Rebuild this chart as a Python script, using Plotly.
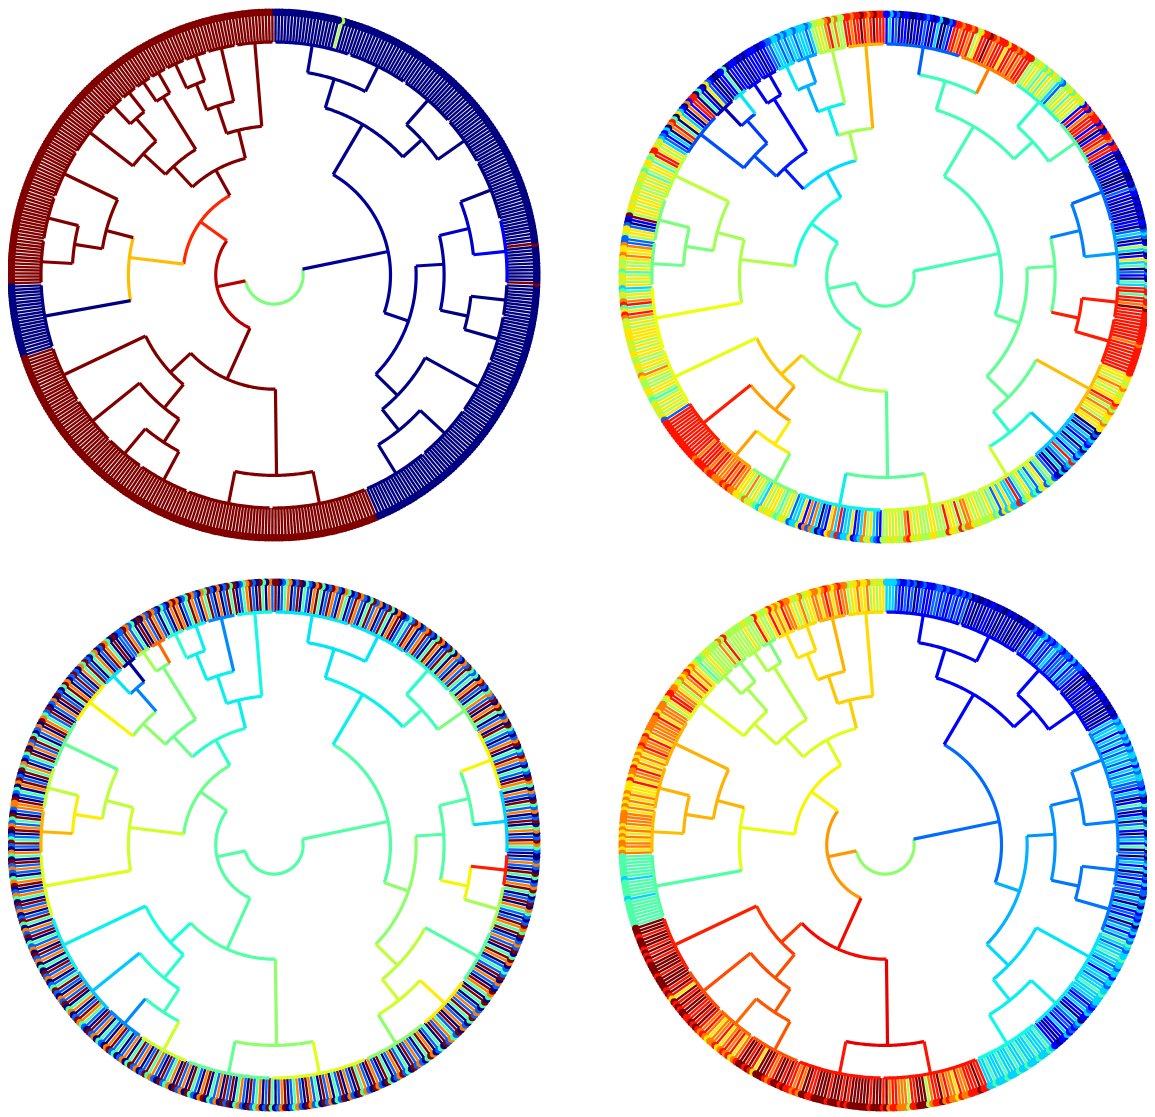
import plotly.graph_objects as go

# the page body adds an 8px margin, so the figure is 8px smaller than the window
PAGE_OFFSET = 8
FIG_W, FIG_H = 1155 - PAGE_OFFSET, 1117 - PAGE_OFFSET

# ---------------- tree topology (children listed counter-clockwise from 12 o'clock)
INTERNAL = ["root", "L", "L1", "L1a", "L1a1", "L1a1b", "L1a1b1", "L1a2", "L1a2a", "L1a2b", "L1a2b2",
            "L1b", "L1b1", "L1b1b", "L2", "L2a", "L2a2", "L2a2b", "L2b",
            "R", "R2", "R2b", "R2b2", "R2a", "R2a2", "R2a1", "R1", "R1b", "R1a"]
CHILDREN = [["L", "R"], ["L1", "L2"], ["L1a", "L1b"], ["L1a1", "L1a2"], ["c1", "L1a1b"], ["c2", "L1a1b1"],
            ["c3", "c4"], ["L1a2a", "L1a2b"], ["c5", "c6"], ["L1a2b2", "c9"], ["c7", "c8"],
            ["L1b1", "c13"], ["c10", "L1b1b"], ["c11", "c12"], ["L2a", "L2b"], ["c14", "L2a2"],
            ["c15", "L2a2b"], ["c16", "c17"], ["c18", "c19"],
            ["R2", "R1"], ["R2b", "R2a"], ["R2b2", "c22"], ["c20", "c21"], ["R2a2", "R2a1"],
            ["c23", "c24"], ["c25", "c26"], ["R1b", "R1a"], ["c27", "c28"], ["c29", "c30"]]
# merge heights, as radius (1.0 = inner edge of the leaf ring)
HEIGHT = [0.125, 0.25, 0.39, 0.515, 0.64, 0.765, 0.885, 0.635, 0.90, 0.765, 0.895,
          0.625, 0.745, 0.866, 0.49, 0.61, 0.74, 0.86, 0.86,
          0.50, 0.61, 0.74, 0.855, 0.73, 0.85, 0.86, 0.75, 0.86, 0.88]

CLUSTERS = ["c%d" % i for i in range(1, 31)]
CLUSTER_SIZE = [13, 10, 8, 7, 6, 6, 6, 8, 16, 17, 15, 15, 22, 20, 17, 14, 18, 29, 33,
                23, 20, 19, 16, 11, 22, 21, 17, 20, 21, 26]

# ---------------- leaf values per panel (one digit per leaf, value = digit / 9)
LEAVES_P1 = ["99999 99999 999", "99999 99999", "99999 999", "99999 99", "99999 9", "99999 9",
             "99999 9", "99999 999", "99999 99999 99999 9", "99999 99999 99999 99",
             "99999 99999 99999", "99999 99999 99999", "00000 00000 00000 00000 00",
             "99999 99999 99999 99999", "99999 99999 99999 99", "99999 99999 9999",
             "99999 99999 99999 999", "99999 99999 99999 99999 99999 9999",
             "99999 99999 99999 99999 99999 99999 999",
             "00000 00000 00000 00000 000", "00000 00000 00000 00000", "00000 00000 00000 0000",
             "00000 00000 00000 0", "00000 00000 0", "90000 00000 00900 00000 00",
             "00000 00000 00000 00000 0", "00000 00000 00000 00", "00000 00000 00000 00000",
             "00000 00000 00000 00000 0", "00000 50000 00000 00000 00000 0"]
LEAVES_P2 = ["88898 78988 788", "55758 75655", "32333 233", "23233 22", "11011 1", "10101 1",
             "10411 0", "01260 140", "88170 13604 87031 2", "36568 85466 54656 55",
             "65665 66591 02665", "22766 76556 45656", "34657 84687 56566 66565 66",
             "55665 76555 66545 65656", "28888 88888 88888 78", "88878 87778 7877",
             "66575 65436 56654 565", "23361 72730 21673 82336 12375 6321",
             "55656 55786 56555 66555 86658 57765 655",
             "56452 63633 82456 34256 245", "21030 23831 32031 23020", "66756 67578 66567 6566",
             "88888 88887 88888 8", "88889 78848 8", "34012 04361 03510 23201 10",
             "10101 01120 10001 10100 1", "88178 81081 88871 81", "56564 65523 55646 45655",
             "88878 78868 88789 88658 7", "88788 12003 10121 01001 10213 1"]
LEAVES_P3 = ["27049 02974 209", "49207 02947", "02794 207", "97024 02", "79270 9", "04279 2",
             "20904 7", "92074 029", "47029 20794 02907 2", "09247 90720 49270 94",
             "20749 02970 42097", "72094 27902 49207", "40927 20479 02740 92702 94",
             "07290 42709 27040 92702", "49207 29047 02974 20", "92704 20792 4027",
             "04927 02947 20924 709", "27094 20790 42709 29047 20924 7029",
             "40279 02472 09724 09270 42907 20947 209",
             "72094 02792 40927 20497 024", "09274 29072 04927 20490", "47902 70924 20794 0927",
             "20947 92024 70920 4", "97204 90272 0", "02479 20740 92072 49027 04",
             "79024 02792 40972 02490 7", "20497 09274 02970 42", "49270 27049 20794 02972",
             "07924 20970 49207 29402 7", "92047 02792 04970 24092 07420 9"]
LEAVES_P4 = ["66565 76676 657", "78767 87677", "66576 567", "78676 86", "55685 5", "56555 5",
             "55857 5", "55565 545", "67687 67567 78865 7", "77687 77776 87787 67",
             "67687 76866 67676", "76777 76767 67767", "44444 44344 44434 44444 44",
             "99989 99898 98999 98999", "98986 98989 98898 98", "78767 78678 7867",
             "89989 86999 87899 898", "87879 98899 99899 98989 99999 8999",
             "89788 77758 89995 78897 87768 77888 988",
             "33433 34333 43343 33433 343", "11011 31212 30113 21233", "34332 33133 23343 3234",
             "23132 03121 30230 2", "21312 03132 0", "20413 20142 03102 41023 12",
             "23323 13233 23132 31332 3", "10100 10110 10110 01", "12213 12212 32121 32112",
             "01010 01010 01011 01001 0", "21212 11212 21112 10212 11233 3"]

# ---------------- branch values per panel (internal nodes, then the 30 clusters)
NODES_P1 = [0.50, 0.95, 0.87, 1, 1, 1, 1, 1, 1, 1, 1, 0.71, 1, 1, 1, 1, 1, 1, 1,
            0.02, 0.02, 0, 0, 0.03, 0, 0.06, 0.01, 0, 0.01]
TIPS_P1 = [1, 1, 1, 1, 1, 1, 1, 1, 1, 1, 1, 1, 0, 1, 1, 1, 1, 1, 1,
           0, 0, 0, 0, 0, 0.11, 0, 0, 0, 0, 0.02]
NODES_P2 = [0.45, 0.44, 0.38, 0.34, 0.55, 0.36, 0.30, 0.15, 0.12, 0.20, 0.18, 0.56, 0.55, 0.50,
            0.58, 0.70, 0.74, 0.66, 0.46, 0.43, 0.47, 0.47, 0.40, 0.47, 0.88, 0.25, 0.43, 0.42, 0.42]
TIPS_P2 = [0.72, 0.56, 0.28, 0.35, 0.08, 0.10, 0.35, 0.05, 0.20, 0.58, 0.50, 0.48, 0.64, 0.63,
           0.88, 0.74, 0.50, 0.36, 0.60, 0.60, 0.32, 0.71, 0.88, 0.88, 0.28, 0.23, 0.45, 0.40,
           0.775, 0.22]
NODES_P3 = [0.45, 0.45, 0.48, 0.40, 0.36, 0.36, 0.36, 0.48, 0.50, 0.52, 0.25, 0.60, 0.58, 0.66,
            0.45, 0.38, 0.40, 0.42, 0.52, 0.45, 0.52, 0.58, 0.60, 0.45, 0.65, 0.45, 0.36, 0.42, 0.35]
TIPS_P3 = [0.37, 0.26, 0.36, 0.40, 0.80, 0.55, 0.02, 0.35, 0.65, 0.47, 0.58, 0.72, 0.62, 0.36,
           0.32, 0.26, 0.60, 0.47, 0.62, 0.52, 0.66, 0.45, 0.55, 0.88, 0.33, 0.65, 0.50, 0.40,
           0.35, 0.35]
NODES_P4 = [0.52, 0.75, 0.65, 0.62, 0.69, 0.70, 0.67, 0.60, 0.57, 0.60, 0.55, 0.63, 0.72, 0.72,
            0.90, 0.85, 0.83, 0.82, 0.91, 0.23, 0.30, 0.34, 0.36, 0.27, 0.24, 0.25, 0.12, 0.12, 0.10]
TIPS_P4 = [0.68, 0.72, 0.68, 0.67, 0.50, 0.56, 0.52, 0.55, 0.62, 0.72, 0.72, 0.71, 0.45, 0.88,
           0.83, 0.80, 0.82, 0.89, 0.89, 0.37, 0.36, 0.35, 0.24, 0.24, 0.25, 0.26, 0.12, 0.13,
           0.11, 0.10]

# panel centres (window pixels); one radial unit = PX_PER_UNIT pixels
PANEL_CENTER = [(274, 275), (885, 277), (274, 845), (885, 845)]
PANEL_RADIUS = 265
PX_PER_UNIT = 233.0

# ---------------- helpers
R_RING = 1.0
R_MARK = 1.128
R_MAX = PANEL_RADIUS / PX_PER_UNIT


def _interp(v, pts):
    for (x0, y0), (x1, y1) in zip(pts[:-1], pts[1:]):
        if v <= x1:
            return y0 + (y1 - y0) * (v - x0) / (x1 - x0)
    return pts[-1][1]


def jet(v):
    v = min(max(float(v), 0.0), 1.0)
    r = _interp(v, [(0, 0), (0.35, 0), (0.66, 1), (0.89, 1), (1, 0.5)])
    g = _interp(v, [(0, 0), (0.125, 0), (0.375, 1), (0.64, 1), (0.91, 0), (1, 0)])
    b = _interp(v, [(0, 0.5), (0.11, 1), (0.34, 1), (0.65, 0), (1, 0)])
    return "rgb(%d,%d,%d)" % (round(255 * r), round(255 * g), round(255 * b))


children = dict(zip(INTERNAL, CHILDREN))
height = dict(zip(INTERNAL, HEIGHT))
for c in CLUSTERS:
    height[c] = R_RING
parent = {ch: p for p in INTERNAL for ch in children[p]}

N = sum(CLUSTER_SIZE)
step = 360.0 / N
leaf_theta = [90.0 + (i + 0.5) * step for i in range(N)]

span = {}
pos = 0
for name, n in zip(CLUSTERS, CLUSTER_SIZE):
    span[name] = (pos, pos + n - 1)
    pos += n


def get_span(node):
    if node not in span:
        a = get_span(children[node][0])
        b = get_span(children[node][-1])
        span[node] = (a[0], b[1])
    return span[node]


get_span("root")
theta = {n: 0.5 * (leaf_theta[s[0]] + leaf_theta[s[1]]) for n, s in span.items()}


def arc(r, t0, t1):
    n = max(2, int(abs(t1 - t0) / 0.5) + 1)
    return [r] * n, [t0 + (t1 - t0) * j / (n - 1) for j in range(n)]


fig = go.Figure()

PANELS = [(LEAVES_P1, NODES_P1, TIPS_P1), (LEAVES_P2, NODES_P2, TIPS_P2),
          (LEAVES_P3, NODES_P3, TIPS_P3), (LEAVES_P4, NODES_P4, TIPS_P4)]

layout_polars = {}
for k, (leaves, nodes, tips) in enumerate(PANELS):
    pid = "polar" if k == 0 else "polar%d" % (k + 1)
    digits = []
    for name, s, n in zip(CLUSTERS, leaves, CLUSTER_SIZE):
        s = s.replace(" ", "")
        assert len(s) == n, "panel %d %s: %d != %d" % (k + 1, name, len(s), n)
        digits.extend(s)
    values = [int(d) / 9.0 for d in digits]

    # leaf lines grouped by value
    for d in sorted(set(digits)):
        rs, ts = [], []
        for i, dd in enumerate(digits):
            if dd == d:
                rs += [R_RING, R_MARK, None]
                ts += [leaf_theta[i], leaf_theta[i], None]
        fig.add_trace(go.Scatterpolar(r=rs, theta=ts, mode="lines", subplot=pid,
                                      line=dict(color=jet(int(d) / 9.0), width=2.4),
                                      hoverinfo="skip", showlegend=False))
    # leaf markers
    fig.add_trace(go.Scatterpolar(r=[R_MARK] * N, theta=leaf_theta, mode="markers", subplot=pid,
                                  cliponaxis=False,
                                  marker=dict(size=7.5, color=[jet(v) for v in values],
                                              line=dict(width=0)),
                                  hoverinfo="skip", showlegend=False))
    # branches
    val = dict(zip(INTERNAL, nodes))
    val.update(dict(zip(CLUSTERS, tips)))
    for node in INTERNAL + CLUSTERS:
        rs, ts = [], []
        if node in parent:
            rs += [height[parent[node]], height[node], None]
            ts += [theta[node], theta[node], None]
        if node in children:
            ar, at = arc(height[node], theta[children[node][0]], theta[children[node][-1]])
        else:
            s = span[node]
            ar, at = arc(R_RING, leaf_theta[s[0]], leaf_theta[s[1]])
        rs += ar
        ts += at
        fig.add_trace(go.Scatterpolar(r=rs, theta=ts, mode="lines", subplot=pid,
                                      line=dict(color=jet(val[node]), width=3.2),
                                      hoverinfo="skip", showlegend=False))

    cx, cy = PANEL_CENTER[k]
    cx -= PAGE_OFFSET
    cy -= PAGE_OFFSET
    layout_polars[pid] = dict(
        domain=dict(x=[max(0.0, (cx - PANEL_RADIUS) / FIG_W), min(1.0, (cx + PANEL_RADIUS) / FIG_W)],
                    y=[max(0.0, (FIG_H - cy - PANEL_RADIUS) / FIG_H),
                       min(1.0, (FIG_H - cy + PANEL_RADIUS) / FIG_H)]),
        bgcolor="white",
        radialaxis=dict(visible=False, range=[0, R_MAX], showgrid=False),
        angularaxis=dict(visible=False, direction="counterclockwise", rotation=0, showgrid=False),
    )

fig.update_layout(width=FIG_W, height=FIG_H, margin=dict(l=0, r=0, t=0, b=0),
                  paper_bgcolor="white", plot_bgcolor="white", showlegend=False,
                  **layout_polars)
fig.write_html("out.html")
